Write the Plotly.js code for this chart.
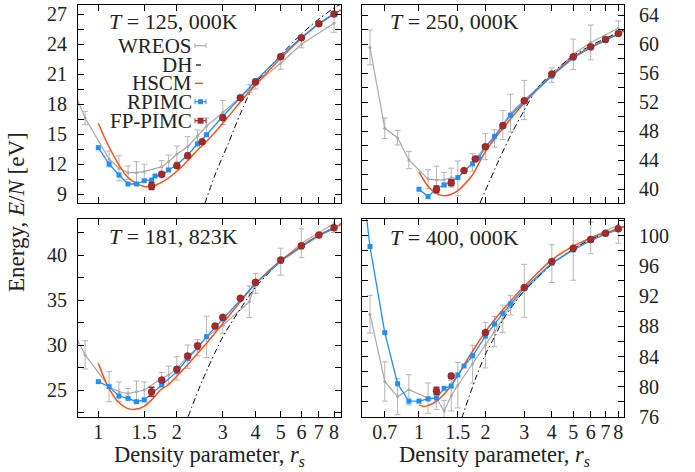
<!DOCTYPE html>
<html><head><meta charset="utf-8">
<script src="https://cdn.plot.ly/plotly-3.0.1.min.js"></script>
<style>body{margin:0;padding:0;background:#fff}#plot{width:695px;height:472px}</style>
</head><body><div id="plot"></div>
<script>
// ---------- T = 125,000 K ----------
const rs_wreos_125 = [0.8,0.89,1.1,1.2,1.3,1.4,1.5,1.75,1.86,2.0,2.2,2.4,2.6,3.0,3.8,4.0,5.0,6.0,8.0];
const E_wreos_125  = [19.5,16.6,12.5,11.57,11.13,11.13,11.23,11.73,12.23,13.0,13.73,14.8,15.8,17.15,19.55,20.0,22.07,23.97,26.07];
const err_wreos_125= [0.8,0.67,0.8,1.25,0.67,1.1,0.75,0.6,0.67,0.8,1.0,0.6,0.8,1.2,0.4,0.5,0.6,0.35,0.9];
const rs_dh_125 = [2.56,2.8,3.15,3.5,3.92,4.5,5.0,6.0,7.0,8.0,8.5];
const E_dh_125  = [8.07,10.9,14.07,17.0,19.73,21.6,22.9,25.0,26.5,27.6,28.0];
const rs_hscm_125 = [1.0,1.09,1.19,1.29,1.4,1.5,1.6,1.74,1.99,2.2,2.4,2.63,3.0,3.5,4.0,5.0,6.0,7.0,8.0,8.5];
const E_hscm_125  = [16.07,13.9,12.07,10.73,10.07,9.75,9.75,10.13,11.23,12.33,13.4,14.4,16.07,18.2,19.9,22.57,24.55,26.0,27.0,27.4];
const rs_rpimc_125 = [1.0,1.1,1.2,1.3,1.4,1.5,1.6,1.65,1.75,1.86,2.0,2.2,2.4,2.6,3.0,4.0,5.0,6.0,7.0,8.0];
const E_rpimc_125  = [13.63,12.0,10.9,10.0,10.0,10.33,10.4,10.8,10.87,11.4,11.9,12.9,14.0,14.93,16.75,20.3,22.8,24.65,26.05,27.0];
const rs_fp_125 = [1.6,1.75,2.0,2.2,2.5,3.0,3.5,4.0,5.0,6.0,7.0,8.0];
const E_fp_125  = [9.8,10.97,11.83,12.83,14.23,16.62,18.63,20.2,22.73,24.63,26.03,27.0];
const err_fp_125= [0.35,0.15,0.1,0.1,0.1,0.1,0.1,0.1,0.1,0.1,0.1,0.1];

// ---------- T = 250,000 K ----------
const rs_wreos_250 = [0.6,0.7,0.8,0.9,1.1,1.2,1.3,1.4,1.5,1.75,2.0,2.2,2.4,2.6,3.0,4.0,5.0,6.0,8.0];
const E_wreos_250  = [59.55,48.4,47.1,44.03,41.4,41.28,41.3,41.6,41.5,43.7,45.87,47.0,48.85,50.5,52.3,55.74,58.6,60.24,62.2];
const err_wreos_250= [2.4,1.4,1.0,1.2,1.3,1.9,1.0,1.3,2.4,1.2,1.8,1.2,2.0,2.6,2.7,1.0,2.1,2.4,1.0];
const rs_dh_250 = [1.89,2.3,2.63,3.0,3.45,4.0,5.0,6.0,7.0,8.0,8.5];
const E_dh_250  = [38.1,44.0,47.7,50.9,54.0,56.0,58.4,59.8,60.8,61.6,62.0];
const rs_hscm_250 = [1.0,1.1,1.2,1.3,1.4,1.5,1.6,1.75,2.0,2.4,3.0,4.0,5.0,6.0,7.0,8.0,8.5];
const E_hscm_250  = [42.4,40.4,39.4,39.1,39.3,39.8,40.6,42.0,45.2,48.4,51.9,55.7,58.2,59.6,60.6,61.4,61.8];
const rs_rpimc_250 = [1.0,1.1,1.2,1.3,1.4,1.5,1.6,1.75,1.86,2.0,2.2,2.4,2.6,3.0,4.0,5.0,6.0,7.0,8.0];
const E_rpimc_250  = [40.0,38.98,40.1,40.6,41.0,41.6,42.5,43.5,44.3,45.8,47.3,48.9,50.2,52.1,55.6,58.1,59.5,60.5,61.4];
const rs_fp_250 = [1.2,1.4,1.6,1.8,2.0,2.4,3.0,4.0,5.0,6.0,7.0,8.0];
const E_fp_250  = [40.0,40.9,42.57,44.17,45.87,48.76,52.2,55.88,58.26,59.64,60.65,61.48];
const err_fp_250= [0.45,0.4,0.15,0.15,0.15,0.15,0.15,0.15,0.15,0.15,0.15,0.15];

// ---------- T = 181,823 K ----------
const rs_wreos_181 = [0.8,0.89,1.1,1.2,1.3,1.4,1.5,1.75,1.86,2.0,2.2,2.4,2.6,3.0,3.79,4.0,5.0,6.0,8.0];
const E_wreos_181  = [31.5,28.9,25.37,24.8,24.6,24.8,25.0,26.3,26.67,27.4,28.7,29.7,30.9,32.2,34.8,36.85,39.26,41.3,43.5];
const err_wreos_181= [1.5,1.57,1.67,1.1,0.55,1.2,0.9,0.65,1.0,1.3,1.3,0.9,2.3,0.9,1.76,1.1,1.5,1.6,1.0];
const rs_dh_181 = [2.21,2.5,3.0,3.5,4.0,5.0,6.0,7.0,8.0,8.5];
const E_dh_181  = [22.04,26.0,30.9,34.0,36.4,39.3,41.0,42.2,43.1,43.5];
const rs_hscm_181 = [1.0,1.09,1.19,1.29,1.38,1.49,1.6,1.73,1.85,2.02,2.2,2.4,2.6,3.0,3.5,4.0,5.0,6.0,7.0,8.0,8.5];
const E_hscm_181  = [27.96,25.37,23.7,22.96,22.85,23.15,23.9,25.0,25.56,26.67,27.8,29.07,30.2,32.4,34.8,36.8,39.4,41.0,42.2,43.0,43.4];
const rs_rpimc_181 = [1.0,1.1,1.2,1.3,1.4,1.5,1.75,2.0,2.2,2.4,2.6,3.0,4.0,5.0,6.0,7.0,8.0];
const E_rpimc_181  = [25.93,25.37,24.33,24.07,23.7,23.9,25.56,27.04,28.5,29.7,30.93,32.9,36.8,39.3,40.9,42.15,42.96];
const rs_fp_181 = [1.6,1.75,2.0,2.2,2.4,2.8,3.0,3.5,4.0,5.0,6.0,7.0,8.0];
const E_fp_181  = [24.8,26.1,27.3,28.78,29.93,32.1,33.07,35.19,36.96,39.44,41.03,42.22,43.03];
const err_fp_181= [0.5,0.15,0.2,0.2,0.15,0.15,0.15,0.1,0.1,0.1,0.1,0.1,0.1];

// ---------- T = 400,000 K ----------
const rs_wreos_400 = [0.6,0.7,0.8,0.9,1.1,1.2,1.3,1.4,1.5,1.75,2.0,2.2,2.4,2.6,3.0,4.0,5.0,6.0,8.0];
const E_wreos_400  = [89.6,80.7,78.7,79.6,78.5,78.5,76.8,78.8,80.2,83.0,85.5,87.3,89.0,90.8,92.7,96.3,98.3,99.7,101.4];
const err_wreos_400= [2.5,2.6,2.4,2.0,2.0,1.5,1.4,2.0,3.0,2.5,3.0,2.0,1.8,1.3,3.5,2.5,4.2,2.1,2.4];
const rs_dh_400 = [1.56,1.8,2.0,2.22,2.42,3.0,4.0,5.0,6.0,7.0,8.0,8.5];
const E_dh_400  = [75.8,81.0,84.3,86.8,89.0,92.7,96.2,98.2,99.5,100.3,100.9,101.2];
const rs_hscm_400 = [1.0,1.05,1.1,1.2,1.3,1.4,1.5,1.6,1.75,2.0,2.4,3.0,4.0,5.0,6.0,7.0,8.0,8.5];
const E_hscm_400  = [77.6,77.4,77.5,78.1,79.0,80.2,81.5,82.9,84.7,87.3,90.2,93.3,96.8,98.6,99.7,100.4,100.9,101.2];
const rs_rpimc_400 = [0.5,0.6,0.7,0.8,0.9,1.0,1.1,1.2,1.3,1.4,1.5,1.6,1.75,2.0,2.2,2.4,2.6,3.0,4.0,5.0,6.0,7.0,8.0];
const E_rpimc_400  = [118.0,98.56,87.17,80.4,78.1,78.1,78.4,78.5,79.8,80.1,81.56,82.75,84.1,86.7,88.3,89.7,90.97,93.05,96.36,98.1,99.35,100.2,100.8];
const rs_fp_400 = [1.2,1.4,2.0,3.0,4.0,5.0,6.0,7.0,8.0];
const E_fp_400  = [79.44,81.43,87.17,93.13,96.57,98.34,99.5,100.33,100.9];
const err_fp_400= [0.45,0.25,0.2,0.15,0.15,0.15,0.15,0.15,0.15];

const panelTitles = ['125, 000K','250, 000K','181, 823K','400, 000K'];
const legendNames = ['WREOS','DH','HSCM','RPIMC','FP-PIMC'];
const xticksLeft = [1,1.5,2,3,4,5,6,7,8];
const xticksRight = [0.7,1,1.5,2,3,4,5,6,7,8];

// ---------- styling ----------
const W = 695, H = 472;
const FONT = 'Liberation Serif, Times New Roman, serif';
const C_GRAY = '#a9a9a9', C_BLUE = '#1e8fff', C_ORANGE = '#ff5317', C_RED = '#a52a2a';
const px = x => x / W, py = y => 1 - y / H;

const sets = [
  {ax:'', wr:[rs_wreos_125,E_wreos_125,err_wreos_125], dh:[rs_dh_125,E_dh_125], hs:[rs_hscm_125,E_hscm_125], rp:[rs_rpimc_125,E_rpimc_125], fp:[rs_fp_125,E_fp_125,err_fp_125]},
  {ax:'2', wr:[rs_wreos_250,E_wreos_250,err_wreos_250], dh:[rs_dh_250,E_dh_250], hs:[rs_hscm_250,E_hscm_250], rp:[rs_rpimc_250,E_rpimc_250], fp:[rs_fp_250,E_fp_250,err_fp_250]},
  {ax:'3', wr:[rs_wreos_181,E_wreos_181,err_wreos_181], dh:[rs_dh_181,E_dh_181], hs:[rs_hscm_181,E_hscm_181], rp:[rs_rpimc_181,E_rpimc_181], fp:[rs_fp_181,E_fp_181,err_fp_181]},
  {ax:'4', wr:[rs_wreos_400,E_wreos_400,err_wreos_400], dh:[rs_dh_400,E_dh_400], hs:[rs_hscm_400,E_hscm_400], rp:[rs_rpimc_400,E_rpimc_400], fp:[rs_fp_400,E_fp_400,err_fp_400]},
];

const traces = [];
sets.forEach(s => {
  const xa = 'x' + s.ax, ya = 'y' + s.ax;
  traces.push({x:s.wr[0], y:s.wr[1], xaxis:xa, yaxis:ya, type:'scatter', mode:'lines+markers', showlegend:false,
    line:{color:C_GRAY, width:1.2}, marker:{color:C_GRAY, size:3},
    error_y:{type:'data', array:s.wr[2], visible:true, color:'#b5b5b5', thickness:1, width:3}});
  traces.push({x:s.dh[0], y:s.dh[1], xaxis:xa, yaxis:ya, type:'scatter', mode:'lines', showlegend:false,
    line:{color:'#000', width:1, dash:'6px,3px,1.5px,3px', shape:'spline', smoothing:0.8}});
  traces.push({x:s.hs[0], y:s.hs[1], xaxis:xa, yaxis:ya, type:'scatter', mode:'lines', showlegend:false,
    line:{color:C_ORANGE, width:1.5, shape:'spline', smoothing:0.8}});
  traces.push({x:s.rp[0], y:s.rp[1], xaxis:xa, yaxis:ya, type:'scatter', mode:'lines+markers', showlegend:false,
    line:{color:C_BLUE, width:1.3}, marker:{color:C_BLUE, size:5, symbol:'square'}});
  traces.push({x:s.fp[0], y:s.fp[1], xaxis:xa, yaxis:ya, type:'scatter', mode:'markers', showlegend:false,
    marker:{color:C_RED, size:7, symbol:'circle', line:{color:'#8a1f1f', width:0.5}},
    error_y:{type:'data', array:s.fp[2], visible:true, color:C_RED, thickness:1.5, width:3}});
});

const tickFont = {family:FONT, size:20, color:'#222'};
function xaxis(dom, range, tv, showLabels){
  return {domain:dom, type:'log', range:range, tickmode:'array', tickvals:tv, ticktext:tv.map(String),
    showticklabels:showLabels, ticks:'inside', ticklen:6, tickwidth:1, tickcolor:'#000',
    mirror:'ticks', showline:true, linecolor:'#000', linewidth:1, showgrid:false, zeroline:false,
    automargin:false, tickfont:tickFont, ticklabelstandoff:-3};
}
function yaxis(dom, range, t0, dt, side, anchor){
  return {domain:dom, range:range, tickmode:'linear', tick0:t0, dtick:dt, side:side, anchor:anchor,
    ticks:'inside', ticklen:6, tickwidth:1, tickcolor:'#000',
    minor:{tick0:t0, dtick:dt/2, ticks:'inside', ticklen:6, tickwidth:1, tickcolor:'#000', showgrid:false},
    mirror:'ticks', showline:true, linecolor:'#000', linewidth:1, showgrid:false, zeroline:false,
    automargin:false, tickfont:tickFont, ticklabelstandoff: side==='left' ? 6 : 10};
}
const dxL = [px(78), px(341)], dxR = [px(362), px(624)];
const dyT = [py(203), py(5)], dyB = [py(417), py(219)];
const rL = [Math.log10(0.836), Math.log10(8.51)], rR = [Math.log10(0.552), Math.log10(8.49)];

const annotations = [];
const titlePos = [[107,22],[388,22],[107,236],[388,237]];
panelTitles.forEach((t,i) => annotations.push({xref:'paper', yref:'paper', x:px(titlePos[i][0]), y:py(titlePos[i][1]),
  xanchor:'left', yanchor:'middle', showarrow:false, text:'<i>T</i> = ' + t, font:{family:FONT, size:22, color:'#222'}}));
annotations.push({xref:'paper', yref:'paper', x:px(209), y:py(456), xanchor:'center', yanchor:'middle', showarrow:false,
  text:'Density parameter, <i>r<sub>s</sub></i>', font:{family:FONT, size:22.5, color:'#222'}});
annotations.push({xref:'paper', yref:'paper', x:px(494), y:py(456), xanchor:'center', yanchor:'middle', showarrow:false,
  text:'Density parameter, <i>r<sub>s</sub></i>', font:{family:FONT, size:22.5, color:'#222'}});
annotations.push({xref:'paper', yref:'paper', x:px(16), y:py(212), xanchor:'center', yanchor:'middle', showarrow:false, textangle:-90,
  text:'Energy, <i>E</i>/<i>N</i> [eV]', font:{family:FONT, size:23, color:'#222'}});

// manual legend (top-left panel)
const legY = [45.7, 65, 83.3, 101.7, 120.7];
const legCol = [C_GRAY, '#000', C_ORANGE, C_BLUE, C_RED];
const shapes = [];
legendNames.forEach((n,i) => {
  annotations.push({xref:'paper', yref:'paper', x:px(193), y:py(legY[i]), xanchor:'right', yanchor:'middle', showarrow:false,
    text:n, font:{family:FONT, size:21, color:'#222'}, borderpad:0});
  const y = legY[i];
  let x0 = 195, x1 = 206;
  if (i===1) { x0 = 196; x1 = 201; }
  if (i===2) { x0 = 195; x1 = 203; }
  shapes.push({type:'line', xref:'paper', yref:'paper', x0:px(x0), x1:px(x1), y0:py(y), y1:py(y), line:{color:legCol[i], width:i===2?1.5:1.2}});
  if (i===0 || i===3 || i===4) {
    [x0, x1].forEach(xc => shapes.push({type:'line', xref:'paper', yref:'paper', x0:px(xc), x1:px(xc), y0:py(y-2.5), y1:py(y+2.5), line:{color:legCol[i], width:1}}));
  }
  if (i===3) shapes.push({type:'rect', xref:'paper', yref:'paper', x0:px(198), x1:px(203), y0:py(y-2.5), y1:py(y+2.5), fillcolor:C_BLUE, line:{width:0}});
  if (i===4) shapes.push({type:'rect', xref:'paper', yref:'paper', x0:px(197.5), x1:px(203.5), y0:py(y-3), y1:py(y+3), fillcolor:C_RED, line:{width:0}});
});

const layout = {
  width:W, height:H, margin:{l:0, r:0, t:0, b:0}, paper_bgcolor:'#fff', plot_bgcolor:'#fff',
  font:{family:FONT, color:'#222'}, showlegend:false,
  xaxis: xaxis(dxL, rL, xticksLeft, false), yaxis: yaxis(dyT, [8.1, 27.9], 9, 3, 'left', 'x'),
  xaxis2: xaxis(dxR, rR, xticksRight, false), yaxis2: yaxis(dyT, [38.1, 65.4], 40, 4, 'right', 'x2'),
  xaxis3: xaxis(dxL, rL, xticksLeft, true), yaxis3: yaxis(dyB, [22, 44], 25, 5, 'left', 'x3'),
  xaxis4: xaxis(dxR, rR, xticksRight, true), yaxis4: yaxis(dyB, [76, 102.2], 76, 4, 'right', 'x4'),
  annotations: annotations, shapes: shapes
};
layout.xaxis.anchor = 'y'; layout.xaxis2.anchor = 'y2'; layout.xaxis3.anchor = 'y3'; layout.xaxis4.anchor = 'y4';

Plotly.newPlot('plot', traces, layout, {displayModeBar:false, staticPlot:true});
</script></body></html>
